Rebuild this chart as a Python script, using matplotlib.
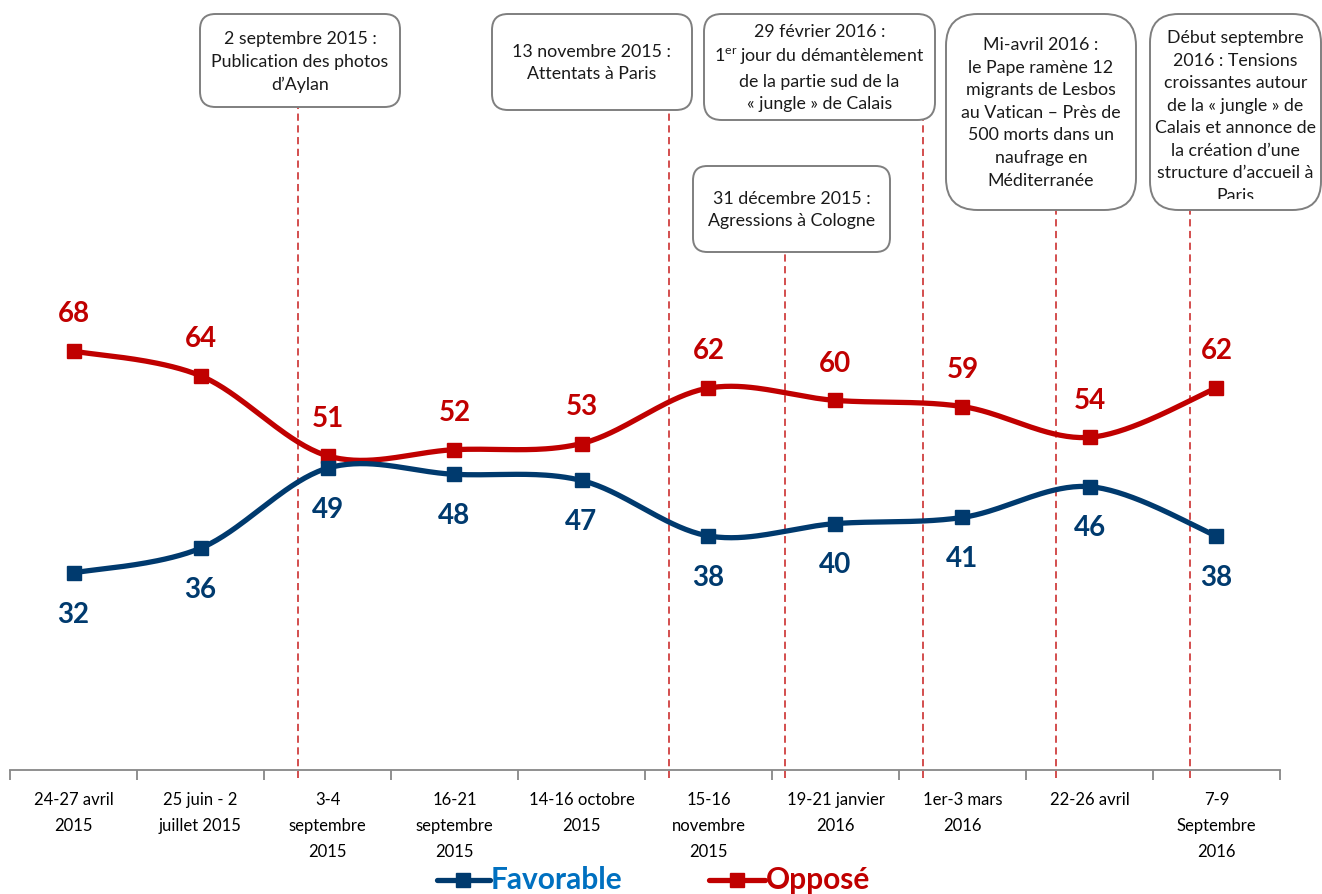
import numpy as np
import matplotlib
matplotlib.use('Agg')
import matplotlib.pyplot as plt
from matplotlib.patches import FancyBboxPatch, Rectangle
from matplotlib.transforms import blended_transform_factory

plt.rcParams['font.family'] = ['Lato', 'DejaVu Sans']
plt.rcParams['mathtext.fontset'] = 'custom'
plt.rcParams['mathtext.rm'] = 'Lato'

# données
categories = ['24-27 avril\n2015', '25 juin - 2\njuillet 2015', '3-4\nseptembre\n2015',
              '16-21\nseptembre\n2015', '14-16 octobre\n2015', '15-16\nnovembre\n2015',
              '19-21 janvier\n2016', '1er-3 mars\n2016', '22-26 avril', '7-9\nSeptembre\n2016']
favorable = [32, 36, 49, 48, 47, 38, 40, 41, 46, 38]
oppose = [68, 64, 51, 52, 53, 62, 60, 59, 54, 62]

event_texts = [
    "2 septembre 2015 :\nPublication des photos\nd\u2019Aylan",
    "13 novembre 2015 :\nAttentats \u00e0 Paris",
    "31 d\u00e9cembre 2015 :\nAgressions \u00e0 Cologne",
    "29 f\u00e9vrier 2016 :\n1$^{\\mathrm{er}}$ jour du d\u00e9mant\u00e8lement\nde la partie sud de la\n\u00ab jungle \u00bb de Calais",
    "Mi-avril 2016 :\nle Pape ram\u00e8ne 12\nmigrants de Lesbos\nau Vatican \u2013 Pr\u00e8s de\n500 morts dans un\nnaufrage en\nM\u00e9diterran\u00e9e",
    "D\u00e9but septembre\n2016 : Tensions\ncroissantes autour\nde la \u00ab jungle \u00bb de\nCalais et annonce de\nla cr\u00e9ation d\u2019une\nstructure d\u2019accueil \u00e0\nParis",
]
event_x = [1.77, 4.69, 5.60, 6.69, 7.74, 8.79]

# boites (pixels : x0, y0, x1, y1)
boxes = [(200, 14, 400, 107), (492, 14, 692, 110), (693, 166, 890, 252),
         (704, 14, 935, 120), (946, 14, 1136, 210), (1150, 14, 1321, 210)]
text_cy = [62, 63, 210, 68, 113, 117]
clip_bottom = [0, 0, 0, 0, 0, 11]

RED = '#C00000'
BLUE = '#003A6E'


def smooth(xs, ys, n=40):
    # courbe lissée type Excel (Catmull-Rom)
    pts = np.column_stack([xs, ys]).astype(float)
    p = np.vstack([pts[0], pts, pts[-1]])
    t = np.linspace(0, 1, n)[:, None]
    out = []
    for i in range(1, len(p) - 2):
        p0, p1, p2, p3 = p[i - 1], p[i], p[i + 1], p[i + 2]
        seg = 0.5 * (2 * p1 + (-p0 + p2) * t + (2 * p0 - 5 * p1 + 4 * p2 - p3) * t ** 2
                     + (-p0 + 3 * p1 - 3 * p2 + p3) * t ** 3)
        out.append(seg if i == 1 else seg[1:])
    return np.vstack(out)


W, H = 1322, 894
fig = plt.figure(figsize=(W / 100, H / 100), dpi=100)
ax = fig.add_axes([10 / W, 124 / H, 1270 / W, 770 / H])
ax.set_xlim(-0.5, 9.5)
ax.set_ylim(0, 125)
ax.patch.set_visible(False)

x = np.arange(len(categories))
for vals, col, dy in [(oppose, RED, 26.5), (favorable, BLUE, -30)]:
    c = smooth(x, vals)
    ax.plot(c[:, 0], c[:, 1], color=col, lw=3.8, solid_capstyle='round', zorder=3)
    ax.plot(x, vals, ls='none', marker='s', ms=10, color=col, zorder=4)
    for xi, v in zip(x, vals):
        ax.annotate(str(v), (xi, v), xytext=(0, dy), textcoords='offset points',
                    ha='center', va='center', fontsize=20, fontweight='bold', color=col)

for s in ['top', 'right', 'left']:
    ax.spines[s].set_visible(False)
ax.spines['bottom'].set_color('#878787')
ax.spines['bottom'].set_linewidth(1.3)
ax.set_yticks([])
ax.set_xticks(x)
ax.set_xticklabels(categories, fontsize=12, linespacing=1.75)
ax.set_xticks(np.arange(-0.5, 10, 1), minor=True)
ax.tick_params(axis='x', which='major', length=0, pad=16)
ax.tick_params(axis='x', which='minor', length=7, width=1.3, color='#878787')

# calque en pixels pour les boites
ov = fig.add_axes([0, 0, 1, 1], zorder=5)
ov.set_xlim(0, W)
ov.set_ylim(H, 0)
ov.axis('off')

trans = blended_transform_factory(ax.transData, ov.transData)
for ex, (x0, y0, x1, y1) in zip(event_x, boxes):
    ax.plot([ex, ex], [778, y1], transform=trans, color='#D04040',
            lw=1.3, ls=(0, (4, 2.5)), clip_on=False, zorder=2)

for (x0, y0, x1, y1), txt, cy, cb in zip(boxes, event_texts, text_cy, clip_bottom):
    w, h = x1 - x0, y1 - y0
    r = 0.1667 * min(w, h)
    patch = FancyBboxPatch((x0, y0), w, h, boxstyle='round,pad=0,rounding_size=%.1f' % r,
                           facecolor='white', edgecolor='#7F7F7F', lw=1.4)
    ov.add_patch(patch)
    t = ov.text((x0 + x1) / 2, cy, txt, ha='center', va='center', fontsize=12.8,
                linespacing=1.5, color='#1a1a1a', clip_on=True)
    # zone de texte interne (le texte trop long est coupé comme dans l'original)
    clip = Rectangle((x0, y0), w, h - cb, transform=ov.transData)
    t.set_clip_path(clip)

# légende
ov.plot([437, 490], [880, 880], color=BLUE, lw=3.8, solid_capstyle='round')
ov.plot([463], [880], marker='s', ms=10, color=BLUE)
ov.text(491, 880, 'Favorable', color='#0070C0', fontsize=21.5, fontweight='bold', va='center')
ov.plot([709, 765], [880, 880], color=RED, lw=3.8, solid_capstyle='round')
ov.plot([737], [880], marker='s', ms=10, color=RED)
ov.text(766, 880, 'Oppos\u00e9', color=RED, fontsize=21.5, fontweight='bold', va='center')

fig.savefig('out.png', dpi=100)
